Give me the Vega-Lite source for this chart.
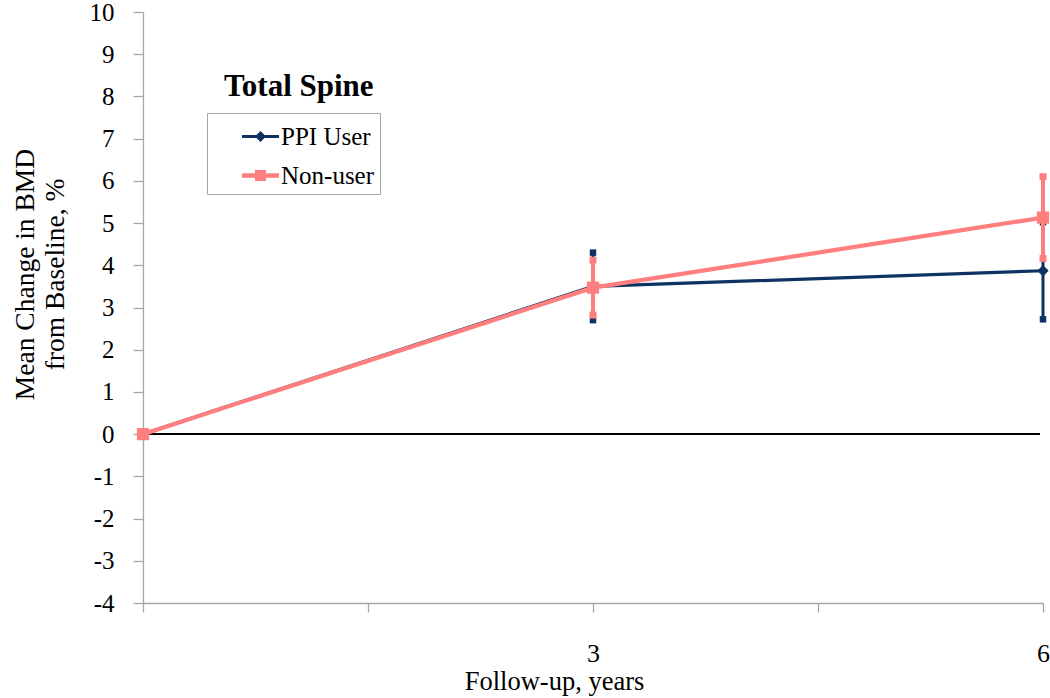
{
  "$schema": "https://vega.github.io/schema/vega-lite/v6.json",
  "width": 900,
  "height": 591,
  "autosize": {"type": "none"},
  "padding": {"left": 143, "top": 12, "right": 7, "bottom": 95},
  "background": "white",
  "title": {"text": "Total Spine", "font": "Liberation Serif", "fontSize": 31, "fontWeight": "bold", "anchor": "start", "frame": "group", "dx": 81, "dy": 127, "baseline": "alphabetic", "offset": 0, "color": "black"},
  "config": {
    "view": {"stroke": null},
    "font": "Liberation Serif"
  },
  "data": {"values": [
    {"series": "PPI User", "year": 0, "mean": 0, "lo": 0, "hi": 0},
    {"series": "PPI User", "year": 3, "mean": 3.5, "lo": 2.7, "hi": 4.3},
    {"series": "PPI User", "year": 6, "mean": 3.87, "lo": 2.72, "hi": 5.02},
    {"series": "Non-user", "year": 0, "mean": 0, "lo": 0, "hi": 0},
    {"series": "Non-user", "year": 3, "mean": 3.47, "lo": 2.82, "hi": 4.12},
    {"series": "Non-user", "year": 6, "mean": 5.13, "lo": 4.16, "hi": 6.1}
  ]},
  "encoding": {
    "x": {"field": "year", "type": "quantitative", "scale": {"domain": [0, 6], "nice": false, "zero": false},
      "axis": {"title": "Follow-up, years", "values": [0, 1.5, 3, 4.5, 6], "labelExpr": "datum.value == 3 || datum.value == 6 ? datum.label : ''", "grid": false,
        "domainColor": "#a6a6a6", "tickColor": "#a6a6a6", "tickSize": 9, "domainWidth": 1.3, "tickWidth": 1.3,
        "labelFont": "Liberation Serif", "labelFontSize": 26, "labelColor": "black", "labelPadding": 28, "labelFlush": false, "labelOverlap": false,
        "titleFont": "Liberation Serif", "titleFontSize": 26.5, "titleFontWeight": "normal", "titleColor": "black", "titleX": 411, "titleY": 86, "titleBaseline": "alphabetic", "titleAlign": "center"}},
    "y": {"field": "mean", "type": "quantitative", "title": ["Mean Change in BMD", "from Baseline,  %"],
      "scale": {"domain": [-4, 10], "nice": false, "zero": false},
      "axis": {"values": [-4, -3, -2, -1, 0, 1, 2, 3, 4, 5, 6, 7, 8, 9, 10], "grid": false,
        "labelExpr": "replace(datum.label, '\u2212', '-')",
        "domainColor": "#a6a6a6", "tickColor": "#a6a6a6", "tickSize": 10, "domainWidth": 1.3, "tickWidth": 1.3,
        "labelFont": "Liberation Serif", "labelFontSize": 25, "labelColor": "black", "labelPadding": 19, "labelFlush": false, "labelOverlap": false,
        "titleFont": "Liberation Serif", "titleFontSize": 27.5, "titleFontWeight": "normal", "titleColor": "black", "titleLineHeight": 30, "titleX": -118, "titleY": 262, "titleBaseline": "middle", "titleAngle": -90, "titleAlign": "center"}},
    "color": {"field": "series", "type": "nominal", "scale": {"domain": ["PPI User", "Non-user"], "range": ["#0E3363", "#FF7F7F"]},
      "legend": {"orient": "none", "legendX": 64, "legendY": 101, "title": null, "strokeColor": "#a6a6a6", "padding": 5, "symbolOffset": 30,
        "labelFont": "Liberation Serif", "labelFontSize": 25, "labelColor": "black", "labelOffset": 2, "symbolSize": 1369, "rowPadding": 7, "symbolStrokeWidth": 0,
        "labelExpr": "datum.label + '\u00a0\u00a0\u00a0\u00a0\u00a0'",
        "encode": {
          "symbols": {"update": {
          "shape": {"signal": "datum.value === 'PPI User' ? 'M-1,-0.085H1V0.085H-1Z M0,-0.3L0.3,0L0,0.3L-0.3,0Z' : 'M-1,-0.115H1V0.115H-1Z M-0.3,-0.3H0.3V0.3H-0.3Z'"},
          "fill": {"signal": "scale('color', datum.value)"},
          "stroke": {"value": "transparent"},
          "opacity": {"value": 1}, "fillOpacity": {"value": 1}}}}}}
  },
  "layer": [
    {"mark": {"type": "rule", "color": "black", "strokeWidth": 1.3}, "encoding": {"y": {"datum": 0}, "color": {"value": "black"}, "x": {"value": 0}, "x2": {"value": 897}}},
    {"transform": [{"filter": "datum.series === 'PPI User'"}],
     "layer": [
       {"mark": {"type": "line", "strokeWidth": 3.2}},
       {"mark": {"type": "rule", "strokeWidth": 3}, "encoding": {"y": {"field": "lo", "type": "quantitative", "title": ["Mean Change in BMD", "from Baseline,  %"]}, "y2": {"field": "hi"}}},
       {"mark": {"type": "point", "filled": true, "opacity": 1, "shape": "square", "size": 42}, "encoding": {"y": {"field": "lo", "type": "quantitative", "title": ["Mean Change in BMD", "from Baseline,  %"]}}},
       {"mark": {"type": "point", "filled": true, "opacity": 1, "shape": "square", "size": 42}, "encoding": {"y": {"field": "hi", "type": "quantitative", "title": ["Mean Change in BMD", "from Baseline,  %"]}}},
       {"mark": {"type": "point", "filled": true, "opacity": 1, "shape": "diamond", "size": 130}}
     ]},
    {"transform": [{"filter": "datum.series === 'Non-user'"}],
     "layer": [
       {"mark": {"type": "line", "strokeWidth": 4.2}},
       {"mark": {"type": "rule", "strokeWidth": 4}, "encoding": {"y": {"field": "lo", "type": "quantitative", "title": ["Mean Change in BMD", "from Baseline,  %"]}, "y2": {"field": "hi"}}},
       {"mark": {"type": "point", "filled": true, "opacity": 1, "shape": "square", "size": 49}, "encoding": {"y": {"field": "lo", "type": "quantitative", "title": ["Mean Change in BMD", "from Baseline,  %"]}}},
       {"mark": {"type": "point", "filled": true, "opacity": 1, "shape": "square", "size": 49}, "encoding": {"y": {"field": "hi", "type": "quantitative", "title": ["Mean Change in BMD", "from Baseline,  %"]}}},
       {"mark": {"type": "point", "filled": true, "opacity": 1, "shape": "square", "size": 150}}
     ]}
  ]
}
